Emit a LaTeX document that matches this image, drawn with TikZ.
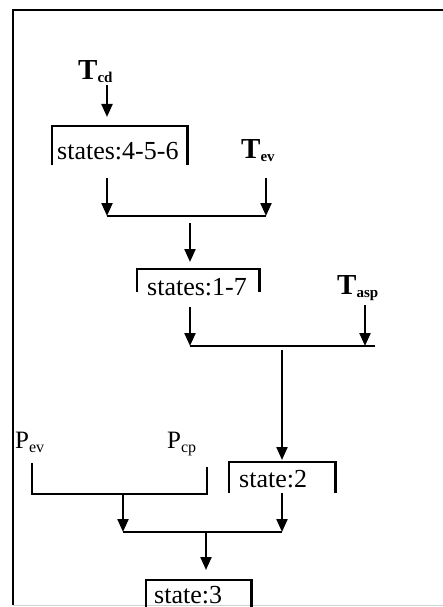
\documentclass[tikz,border=0pt]{standalone}
\usepackage{fontspec}
\setmainfont{Liberation Serif}
\usetikzlibrary{arrows.meta,positioning}

\newcommand{\tsub}[2]{\textbf{#1\raisebox{-3pt}{\fontsize{15}{15}\selectfont #2}}}
\newcommand{\psub}[2]{#1\raisebox{-4pt}{\fontsize{16}{16}\selectfont #2}}

\begin{document}
\begin{tikzpicture}[
  x=1pt, y=-1pt,
  wire/.style={line width=2.2pt},
  arr/.style={wire,-{Triangle[length=13pt,width=11pt]}},
  brk/.style={anchor=north west,inner sep=0pt},
  txt/.style={anchor=base west,inner sep=0pt,font=\fontsize{26}{30}\selectfont},
  tlab/.style={anchor=base west,inner sep=0pt,font=\fontsize{29}{33}\selectfont},
  plab/.style={anchor=base west,inner sep=0pt,font=\fontsize{25}{29}\selectfont}
]
\useasboundingbox (0,0) rectangle (443,607);
\draw[line width=2.4pt] (443,10) -- (13,10) -- (13,605);
\draw[gray!35,line width=1pt] (13,605) -- (443,605);

% inputs
\node[tlab] (Tcd) at (78,80) {\tsub{T}{cd}};
\node[tlab] (Tev) at (241,158) {\tsub{T}{ev}};
\node[tlab] (Tasp) at (337,294) {\tsub{T}{asp}};
\node[plab] (Pev) at (15,448) {\psub{P}{ev}};
\node[plab] (Pcp) at (167,448) {\psub{P}{cp}};

% state brackets
\node[brk,minimum width=135pt,minimum height=39pt] (s456) at (52,126) {};
\node[brk,minimum width=122pt,minimum height=23pt] (s17) at (137,269) {};
\node[brk,minimum width=106pt,minimum height=31pt] (s2) at (229,462) {};
\node[brk,minimum width=105pt,minimum height=30pt] (s3) at (146,580) {};
\foreach \s in {s456,s17,s2,s3}
  \draw[wire] (\s.south west) |- (\s.north east) -- (\s.south east);
\node[txt] (s456t) at ([shift={(5pt,-33pt)}]s456.north west) {states:4-5-6};
\node[txt] (s17t) at ([shift={(10pt,-26pt)}]s17.north west) {states:1-7};
\node[txt] (s2t) at ([shift={(10pt,-25pt)}]s2.north west) {state:2};
\node[txt] (s3t) at ([shift={(8pt,-23pt)}]s3.north west) {state:3};

% joins
\coordinate (j1l) at (107,216); \coordinate (j1r) at (266,216);
\coordinate (j2l) at (190,346); \coordinate (j2a) at (365,346); \coordinate (j2r) at (375,346);
\coordinate (j3l) at (123,532); \coordinate (j3m) at (206,532); \coordinate (j3r) at (282,532);
\coordinate (pl) at (32,494); \coordinate (pr) at (207,494);
\draw[wire] (j1l) -- (j1r);
\draw[wire] (j2l) -- (j2r);
\draw[wire] (j3l) -- (j3r);

\draw[arr,shorten <=2pt,shorten >=9pt] (Tcd.south -| j1l) -- (s456.north -| j1l);
\draw[arr,shorten <=13pt] (s456.south -| j1l) -- (j1l);
\draw[arr,shorten <=17pt] (Tev.south -| j1r) -- (j1r);
\draw[arr,shorten <=7pt,shorten >=7pt] (j1l -| j2l) -- (s17.north -| j2l);
\draw[arr,shorten <=15pt] (s17.south -| j2l) -- (j2l);
\draw[arr,shorten <=5pt] (Tasp.south -| j2a) -- (j2a);
\draw[arr,shorten <=4pt,shorten >=2pt] (j2l -| j3r) -- (s2.north -| j3r);
\draw[arr] (s2.south -| j3r) -- (j3r);
\draw[wire,shorten <=11pt,shorten >=11pt] (pl |- Pev.south) -- (pl) -- (pr) -- (pr |- Pcp.south);
\draw[arr] (pl -| j3l) -- (j3l);
\draw[arr,shorten >=10pt] (j3m) -- (j3m |- s3.north);
\end{tikzpicture}
\end{document}
